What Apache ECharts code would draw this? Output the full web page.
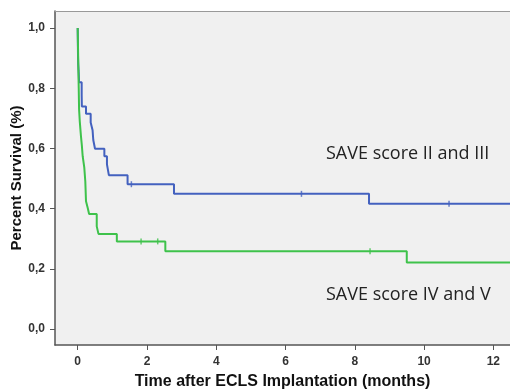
<!DOCTYPE html>
<html><head><meta charset="utf-8">
<script src="https://cdn.jsdelivr.net/npm/echarts@6/dist/echarts.min.js"></script>
<style>html,body{margin:0;padding:0;background:#fff}#c{width:510px;height:392px}</style>
</head><body><div id="c"></div>
<script>
// Kaplan-Meier survival
const xTicks = [0, 2, 4, 6, 8, 10, 12];
const yTicks = [0, 0.2, 0.4, 0.6, 0.8, 1.0];
const seriesNames = ['SAVE score II and III', 'SAVE score IV and V'];

const blueTimes = [0, 0.005, 0.01, 0.015, 0.03, 0.04, 0.115, 0.12, 0.24, 0.375, 0.43, 0.45, 0.5, 0.77, 0.845, 0.9, 1.44, 2.78, 8.41, 12.48];
const blueSurv  = [1.0, 0.95, 0.90, 0.88, 0.85, 0.82, 0.78, 0.739, 0.715, 0.686, 0.66, 0.628, 0.599, 0.574, 0.547, 0.511, 0.481, 0.449, 0.416, 0.416];
const blueCensT = [1.55, 6.46, 10.72];
const blueCensS = [0.481, 0.449, 0.416];

const greenTimes = [0, 0.01, 0.02, 0.03, 0.04, 0.06, 0.095, 0.12, 0.144, 0.19, 0.22, 0.24, 0.29, 0.33, 0.55, 0.6, 1.13, 2.53, 9.5, 12.48];
const greenSurv  = [1.0, 0.93, 0.86, 0.80, 0.73, 0.69, 0.64, 0.61, 0.574, 0.537, 0.49, 0.424, 0.402, 0.382, 0.341, 0.316, 0.291, 0.258, 0.221, 0.221];
const greenCensT = [1.83, 2.31, 8.44];
const greenCensS = [0.291, 0.291, 0.258];

const BLUE = '#4361bf', GREEN = '#3ec24b';
const zip = (a, b) => a.map((v, i) => [v, b[i]]);
const fmt = v => v.toFixed(1).replace('.', ',');

const chart = echarts.init(document.getElementById('c'), null, {renderer: 'canvas'});
const lblFont = {fontFamily: 'Liberation Sans, Arial, sans-serif', fontWeight: 'bold', fontSize: 12, color: '#333'};
chart.setOption({
  animation: false,
  backgroundColor: '#fff',
  grid: {left: 55, top: 11, right: 0, bottom: 47, show: true, backgroundColor: '#f0f0f0', borderWidth: 0, borderColor: 'transparent',
         containLabel: false, outerBoundsMode: 'none'},
  xAxis: [{
    type: 'value', min: -0.655, max: 12.48,
    splitLine: {show: false},
    axisLine: {show: true, onZero: false, lineStyle: {color: '#555', width: 1.5}},
    axisTick: {show: true, length: 5, customValues: xTicks, lineStyle: {color: '#555'}},
    axisLabel: Object.assign({customValues: xTicks, margin: 11, formatter: v => String(v)}, lblFont),
    name: 'Time after ECLS Implantation (months)', nameLocation: 'middle', nameGap: 29, nameMoveOverlap: false,
    nameTextStyle: {fontFamily: 'Liberation Sans, Arial, sans-serif', fontWeight: 'bold', fontSize: 16, color: '#111'}
  }, {
    type: 'value', position: 'top', min: -0.655, max: 12.48,
    splitLine: {show: false}, axisTick: {show: false}, axisLabel: {show: false},
    axisLine: {show: true, onZero: false, lineStyle: {color: '#999', width: 1}}
  }],
  yAxis: {
    type: 'value', min: -0.0532, max: 1.0565,
    splitLine: {show: false},
    axisLine: {show: true, onZero: false, lineStyle: {color: '#555', width: 1.5}},
    axisTick: {show: true, length: 5, customValues: yTicks, lineStyle: {color: '#555'}},
    axisLabel: Object.assign({customValues: yTicks, margin: 10, formatter: v => fmt(v)}, lblFont),
    name: 'Percent Survival (%)', nameLocation: 'middle', nameGap: 31, nameMoveOverlap: false,
    nameTextStyle: {fontFamily: 'Liberation Sans, Arial, sans-serif', fontWeight: 'bold', fontSize: 15, color: '#111'}
  },
  series: [
    {name: seriesNames[1], type: 'line', step: 'end', data: zip(greenTimes, greenSurv), symbol: 'none',
     lineStyle: {color: GREEN, width: 2}, z: 3},
    {name: seriesNames[0], type: 'line', step: 'end', data: zip(blueTimes, blueSurv), symbol: 'none',
     lineStyle: {color: BLUE, width: 2}, z: 2},
    {type: 'scatter', data: zip(blueCensT, blueCensS), symbol: 'rect', symbolSize: [1.5, 6],
     itemStyle: {color: BLUE}, z: 4},
    {type: 'scatter', data: zip(greenCensT, greenCensS), symbol: 'rect', symbolSize: [1.5, 6],
     itemStyle: {color: GREEN}, z: 4}
  ],
  graphic: [
    {type: 'text', left: 326, top: 145, style: {text: seriesNames[0], font: '18px "Open Sans", sans-serif', fill: '#222'}},
    {type: 'text', left: 326, top: 286, style: {text: seriesNames[1], font: '18px "Open Sans", sans-serif', fill: '#222'}}
  ]
});
</script></body></html>
